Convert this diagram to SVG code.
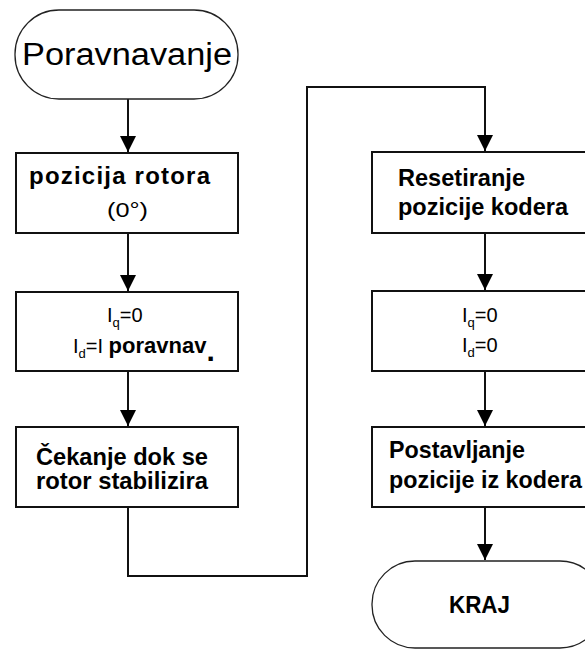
<svg xmlns="http://www.w3.org/2000/svg" width="585" height="649" viewBox="0 0 585 649">
<style>
.box{fill:#fff;stroke:#111;stroke-width:2}
.term{fill:#fff;stroke:#222;stroke-width:1.3}
.con{fill:none;stroke:#111;stroke-width:2}
.b{font-family:"Liberation Sans",Arial,sans-serif;font-weight:bold;font-size:24px;fill:#000}
.r{font-family:"Liberation Sans",Arial,sans-serif;font-size:20px;fill:#000}
.sub{font-size:13px}
</style>
<defs>
<marker id="ah" markerUnits="userSpaceOnUse" markerWidth="18" markerHeight="18" refX="16" refY="8" orient="auto">
<path d="M0,0 L16,8 L0,16 Z" fill="#000"/>
</marker>
</defs>
<rect width="585" height="649" fill="#fff"/>
<g id="connectors">
<line class="con" x1="128" y1="99" x2="128" y2="152" marker-end="url(#ah)"/>
<line class="con" x1="128" y1="233" x2="128" y2="291" marker-end="url(#ah)"/>
<line class="con" x1="128" y1="371" x2="128" y2="426" marker-end="url(#ah)"/>
<polyline class="con" points="128,507 128,576 307,576 307,87 485,87 485,151" marker-end="url(#ah)"/>
<line class="con" x1="485" y1="233" x2="485" y2="290" marker-end="url(#ah)"/>
<line class="con" x1="485" y1="371" x2="485" y2="426" marker-end="url(#ah)"/>
<line class="con" x1="485" y1="507" x2="485" y2="560" marker-end="url(#ah)"/>
</g>
<g id="start">
<rect class="term" x="15" y="10" width="223" height="89" rx="44" ry="44"/>
<text x="22" y="65" font-family="Liberation Sans,Arial,sans-serif" font-size="31" textLength="210" lengthAdjust="spacingAndGlyphs">Poravnavanje</text>
</g>
<g id="n1">
<rect class="box" x="16" y="153" width="222" height="80"/>
<text class="b" x="29" y="184" font-size="21" textLength="181" lengthAdjust="spacing">pozicija rotora</text>
<text class="r" x="107" y="217" font-size="21" textLength="41" lengthAdjust="spacingAndGlyphs">(0°)</text>
</g>
<g id="n2">
<rect class="box" x="16" y="292" width="222" height="79"/>
<text class="r" x="107" y="322">I<tspan class="sub" dy="5">q</tspan><tspan dy="-5">=0</tspan></text>
<text class="r" x="73" y="353">I<tspan class="sub" dy="5">d</tspan><tspan dy="-5">=I </tspan><tspan font-weight="bold" font-size="22">poravnav</tspan><tspan font-weight="bold" font-size="30" dy="8">.</tspan></text>
</g>
<g id="n3">
<rect class="box" x="16" y="427" width="222" height="80"/>
<text class="b" x="36" y="465" textLength="172" lengthAdjust="spacingAndGlyphs">Čekanje dok se</text>
<text class="b" x="36" y="489" textLength="172" lengthAdjust="spacingAndGlyphs">rotor stabilizira</text>
</g>
<g id="n4">
<rect class="box" x="372" y="152" width="225" height="81"/>
<text class="b" x="398" y="186" textLength="127" lengthAdjust="spacingAndGlyphs">Resetiranje</text>
<text class="b" x="398" y="215" textLength="170" lengthAdjust="spacingAndGlyphs">pozicije kodera</text>
</g>
<g id="n5">
<rect class="box" x="372" y="291" width="225" height="80"/>
<text class="r" x="462" y="322">I<tspan class="sub" dy="5">q</tspan><tspan dy="-5">=0</tspan></text>
<text class="r" x="462" y="352">I<tspan class="sub" dy="5">d</tspan><tspan dy="-5">=0</tspan></text>
</g>
<g id="n6">
<rect class="box" x="372" y="427" width="225" height="80"/>
<text class="b" x="389" y="458" textLength="136" lengthAdjust="spacingAndGlyphs">Postavljanje</text>
<text class="b" x="389" y="488" textLength="193" lengthAdjust="spacingAndGlyphs">pozicije iz kodera</text>
</g>
<g id="end">
<rect class="term" x="372" y="561" width="231" height="87" rx="43" ry="43"/>
<text class="b" x="449" y="613" font-size="23" textLength="61" lengthAdjust="spacingAndGlyphs">KRAJ</text>
</g>
</svg>
